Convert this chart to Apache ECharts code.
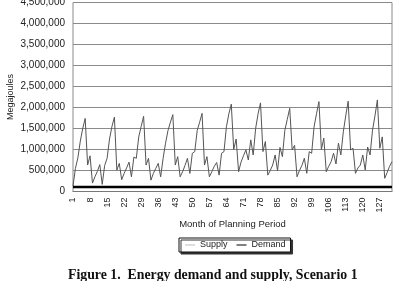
<!DOCTYPE html>
<html><head><meta charset="utf-8">
<script src="https://cdn.jsdelivr.net/npm/echarts@6/dist/echarts.min.js"></script>
<style>html,body{margin:0;padding:0;background:#fff}#c{width:396px;height:281px}</style>
</head><body><div id="c"></div>
<script>
// Months 1..132
const months = [];
for (let i = 1; i <= 132; i++) months.push(String(i));

// Supply (MJ)
const supply = [
  130000, 550000, 800000, 1200000, 1500000, 1740000, 630000, 850000, 200000, 350000, 480000, 640000,
  170000, 620000, 790000, 1250000, 1550000, 1770000, 510000, 670000, 280000, 430000, 560000, 700000,
  350000, 820000, 790000, 1300000, 1550000, 1790000, 630000, 790000, 270000, 430000, 550000, 670000,
  350000, 790000, 1150000, 1450000, 1650000, 1830000, 630000, 830000, 350000, 470000, 620000, 790000,
  430000, 910000, 950000, 1450000, 1650000, 1860000, 630000, 830000, 350000, 470000, 600000, 690000,
  390000, 910000, 950000, 1540000, 1850000, 2080000, 1000000, 1250000, 470000, 700000, 850000, 990000,
  750000, 1230000, 870000, 1500000, 1850000, 2110000, 950000, 1190000, 390000, 500000, 630000, 870000,
  495000, 1050000, 830000, 1460000, 1720000, 1980000, 990000, 1100000, 350000, 500000, 620000, 790000,
  433000, 948000, 910000, 1540000, 1850000, 2140000, 1000000, 1270000, 471000, 600000, 710000, 910000,
  655000, 1150000, 870000, 1420000, 1800000, 2150000, 990000, 1030000, 433000, 560000, 630000, 870000,
  512000, 1060000, 870000, 1460000, 1800000, 2180000, 1030000, 1300000, 314000, 450000, 600000, 710000
];

// Demand (MJ)
const demand = [
  110000,110000,110000,110000,110000,110000,110000,110000,110000,110000,110000,110000,
  110000,110000,110000,110000,110000,110000,110000,110000,110000,110000,110000,110000,
  110000,110000,110000,110000,110000,110000,110000,110000,110000,110000,110000,110000,
  110000,110000,110000,110000,110000,110000,110000,110000,110000,110000,110000,110000,
  110000,110000,110000,110000,110000,110000,110000,110000,110000,110000,110000,110000,
  110000,110000,110000,110000,110000,110000,110000,110000,110000,110000,110000,110000,
  110000,110000,110000,110000,110000,110000,110000,110000,110000,110000,110000,110000,
  110000,110000,110000,110000,110000,110000,110000,110000,110000,110000,110000,110000,
  110000,110000,110000,110000,110000,110000,110000,110000,110000,110000,110000,110000,
  110000,110000,110000,110000,110000,110000,110000,110000,110000,110000,110000,110000,
  110000,110000,110000,110000,110000,110000,110000,110000,110000,110000,110000,110000
];

const yMin = 0, yMax = 4500000, yStep = 500000;
const seriesNames = ['Supply', 'Demand'];
const yName = 'Megajoules';
const xName = 'Month of Planning Period';
const caption = 'Figure 1.  Energy demand and supply, Scenario 1';

const fmt = v => String(v).replace(/\B(?=(\d{3})+(?!\d))/g, ',');
const font = 'Liberation Sans, Arial, sans-serif';

const chart = echarts.init(document.getElementById('c'), null, {renderer: 'canvas'});
chart.setOption({
  animation: false,
  backgroundColor: '#fff',
  grid: {left: 73, right: 4, top: 2.5, bottom: 89.5, show: true, borderColor: '#8a8a8a', borderWidth: 1, containLabel: false, outerBoundsMode: 'none'},
  xAxis: {
    type: 'category', data: months, boundaryGap: false,
    axisLine: {show: true, lineStyle: {color: '#777', width: 1}},
    axisTick: {show: false},
    axisLabel: {interval: 6, rotate: 90, fontSize: 9, color: '#222', fontFamily: font, margin: 6},
    name: xName, nameLocation: 'middle', nameGap: 28, nameMoveOverlap: false,
    nameTextStyle: {fontSize: 9.5, color: '#222', fontFamily: font},
    splitLine: {show: false}
  },
  yAxis: {
    type: 'value', min: yMin, max: yMax, interval: yStep,
    axisLine: {show: false}, axisTick: {show: false},
    axisLabel: {formatter: fmt, fontSize: 10, color: '#222', fontFamily: font, margin: 8},
    splitLine: {show: true, lineStyle: {color: '#8a8a8a', width: 1}},
    name: yName, nameLocation: 'middle', nameGap: 58, nameRotate: 90, nameMoveOverlap: false,
    nameTextStyle: {fontSize: 9, color: '#222', fontFamily: font}
  },
  legend: {
    data: [
      {name: seriesNames[0], icon: 'path://M0,0 L20,0 L20,1 L0,1 Z', itemStyle: {color: '#777'}},
      {name: seriesNames[1], icon: 'path://M0,0 L20,0 L20,2 L0,2 Z'}
    ],
    left: 179, top: 238, itemWidth: 10, itemHeight: 2, itemGap: 9,
    padding: [2, 5, 2, 6],
    borderColor: '#111', borderWidth: 1, backgroundColor: '#fff',
    shadowColor: '#333', shadowBlur: 0, shadowOffsetX: 2, shadowOffsetY: 2,
    textStyle: {fontSize: 9, color: '#222', fontFamily: font, lineHeight: 10}
  },
  title: {
    text: caption, left: 63, top: 263,
    textStyle: {fontSize: 13.8, fontWeight: 'bold', color: '#111', fontFamily: 'Liberation Serif, DejaVu Serif, serif'}
  },
  series: [
    {name: seriesNames[0], type: 'line', data: supply, symbol: 'none', lineStyle: {color: '#555', width: 1}, itemStyle: {color: '#555'}},
    {name: seriesNames[1], type: 'line', data: demand, symbol: 'none', lineStyle: {color: '#000', width: 2.5}, itemStyle: {color: '#000'}}
  ]
});
</script></body></html>
